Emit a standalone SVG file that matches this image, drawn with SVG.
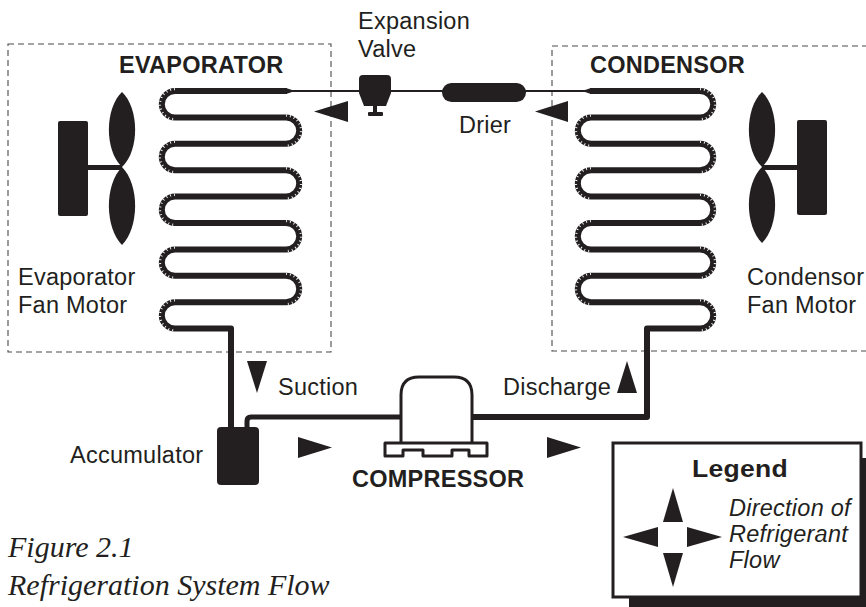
<svg xmlns="http://www.w3.org/2000/svg" width="866" height="607" viewBox="0 0 866 607">
<style>
.t{font-family:"Liberation Sans",Arial,Helvetica,sans-serif;font-size:23.5px;letter-spacing:0.25px;fill:#231f20}
.b{font-weight:bold}
.i{font-style:italic}
.cap{font-family:"Liberation Serif","Times New Roman",serif;font-style:italic;font-size:30px;fill:#231f20}
.box{fill:none;stroke:#4a4a4a;stroke-width:1.1;stroke-dasharray:6 4}
.tube{fill:none;stroke:#231f20;stroke-width:6;stroke-linejoin:round}
.pipe{fill:none;stroke:#231f20;stroke-width:5;stroke-linejoin:round}
.thin{fill:none;stroke:#231f20;stroke-width:2}
.tick{fill:none;stroke:#fff;stroke-width:2.2;stroke-dasharray:0.9 3.1}
.k{fill:#231f20}
.outl{fill:#fff;stroke:#231f20;stroke-width:3;stroke-linejoin:round}
</style>

<g id="evaporator-box">
<rect class="box" x="8" y="44" width="323" height="308"/>
<text class="t b" x="119" y="73">EVAPORATOR</text>
</g>

<g id="condensor-box">
<rect class="box" x="552" y="46" width="330" height="305"/>
<text class="t b" x="590" y="73">CONDENSOR</text>
</g>

<g id="connectors">
<line class="thin" x1="286" y1="91" x2="592" y2="91"/>
<path class="tube" d="M287,91 H175 A13.2,13.2 0 0 0 175,117.4 H286 A13.2,13.2 0 0 1 286,143.8 H175 A13.2,13.2 0 0 0 175,170.2 H286 A13.2,13.2 0 0 1 286,196.6 H175 A13.2,13.2 0 0 0 175,223 H286 A13.2,13.2 0 0 1 286,249.4 H175 A13.2,13.2 0 0 0 175,275.8 H286 A13.2,13.2 0 0 1 286,302.2 H175 A13.2,13.2 0 0 0 175,328.6 H231 V430"/>
<polygon class="k" points="286,88 292,90 292,92 286,94"/>
<path class="tube" d="M590,91 H700 A13.2,13.2 0 0 1 700,117.4 H591 A13.2,13.2 0 0 0 591,143.8 H700 A13.2,13.2 0 0 1 700,170.2 H591 A13.2,13.2 0 0 0 591,196.6 H700 A13.2,13.2 0 0 1 700,223 H591 A13.2,13.2 0 0 0 591,249.4 H700 A13.2,13.2 0 0 1 700,275.8 H591 A13.2,13.2 0 0 0 591,302.2 H700 A13.2,13.2 0 0 1 700,328.6 H647 V417 H470"/>
<polygon class="k" points="591,88 585,90 585,92 591,94"/>
<path class="pipe" d="M247,430 V421 Q247,417 251,417 H403"/>
<path class="tick" d="M175,89.2 A15,15 0 0 0 175,119.2 M175,142 A15,15 0 0 0 175,172 M175,194.8 A15,15 0 0 0 175,224.8 M175,247.6 A15,15 0 0 0 175,277.6 M175,300.4 A15,15 0 0 0 175,330.4"/>
<path class="tick" d="M286,115.6 A15,15 0 0 1 286,145.6 M286,168.4 A15,15 0 0 1 286,198.4 M286,221.2 A15,15 0 0 1 286,251.2 M286,274 A15,15 0 0 1 286,304"/>
<path class="tick" d="M700,89.2 A15,15 0 0 1 700,119.2 M700,142 A15,15 0 0 1 700,172 M700,194.8 A15,15 0 0 1 700,224.8 M700,247.6 A15,15 0 0 1 700,277.6 M700,300.4 A15,15 0 0 1 700,330.4"/>
<path class="tick" d="M591,115.6 A15,15 0 0 0 591,145.6 M591,168.4 A15,15 0 0 0 591,198.4 M591,221.2 A15,15 0 0 0 591,251.2 M591,274 A15,15 0 0 0 591,304"/>
<polygon class="k" points="314,111.5 348,101 348,122"/>
<polygon class="k" points="535,111.5 568,101 568,122"/>
<polygon class="k" points="247,361 267,361 257,393"/>
<polygon class="k" points="627,361 617,393 637,393"/>
<polygon class="k" points="298,437 298,458 332,447.5"/>
<polygon class="k" points="547,437 547,458 581,447.5"/>
</g>

<g id="expansion-valve">
<path class="k" d="M359,79 Q359,75 363,75 H387 Q391,75 391,79 V93 L386,106 H364 L359,93 Z"/>
<rect class="k" x="373" y="105" width="4" height="8"/>
<rect class="k" x="368" y="112" width="15" height="4" rx="1"/>
<text class="t" x="358" y="29">Expansion</text>
<text class="t" x="358" y="57">Valve</text>
</g>

<g id="drier">
<rect class="k" x="442" y="83" width="84" height="19" rx="9.5"/>
<text class="t" x="459" y="133">Drier</text>
</g>

<g id="evaporator-fan">
<rect class="k" x="58" y="121" width="30" height="95" rx="2"/>
<rect class="k" x="87" y="165" width="35" height="5"/>
<path class="k" d="M122,92 C105,108 104,150 122,167 C140,150 139,108 122,92 Z"/>
<path class="k" d="M122,167 C104,185 105,228 122,245 C139,228 140,185 122,167 Z"/>
<text class="t" x="18" y="285">Evaporator</text>
<text class="t" x="18" y="313">Fan Motor</text>
</g>

<g id="condensor-fan">
<rect class="k" x="797" y="120" width="30" height="95" rx="2"/>
<rect class="k" x="762" y="165" width="36" height="5"/>
<path class="k" d="M762,92 C745,108 744,150 762,167 C780,150 779,108 762,92 Z"/>
<path class="k" d="M762,167 C744,185 745,226 762,243 C779,226 780,185 762,167 Z"/>
<text class="t" x="747" y="285">Condensor</text>
<text class="t" x="747" y="313">Fan Motor</text>
</g>

<g id="accumulator">
<rect class="k" x="217" y="427" width="42" height="58" rx="4"/>
<text class="t" x="70" y="463">Accumulator</text>
</g>

<g id="compressor">
<path class="outl" d="M401,443 V395 Q401,377 419,377 H454 Q472,377 472,395 V443"/>
<path class="outl" d="M385,443 H487 V456 H469 V450 H452 V456 H423 V450 H403 V456 H385 Z"/>
<text class="t b" x="352" y="487">COMPRESSOR</text>
</g>

<g id="labels">
<text class="t" x="278" y="395">Suction</text>
<text class="t" x="503" y="395">Discharge</text>
</g>

<g id="legend">
<rect class="k" x="629" y="458" width="248" height="154"/>
<rect x="613" y="443" width="248" height="154" fill="#fff" stroke="#231f20" stroke-width="3"/>
<text class="t b" x="692" y="477" textLength="96" lengthAdjust="spacingAndGlyphs">Legend</text>
<polygon class="k" points="673,488 663,522 683,522"/>
<polygon class="k" points="663,553 683,553 673,587"/>
<polygon class="k" points="623,537 658,527 658,547"/>
<polygon class="k" points="687,527 687,547 722,537"/>
<text class="t i" x="729" y="516">Direction of</text>
<text class="t i" x="729" y="542">Refrigerant</text>
<text class="t i" x="729" y="568">Flow</text>
</g>

<g id="caption">
<text class="cap" x="8" y="557">Figure 2.1</text>
<text class="cap" x="8" y="595">Refrigeration System Flow</text>
</g>
</svg>
